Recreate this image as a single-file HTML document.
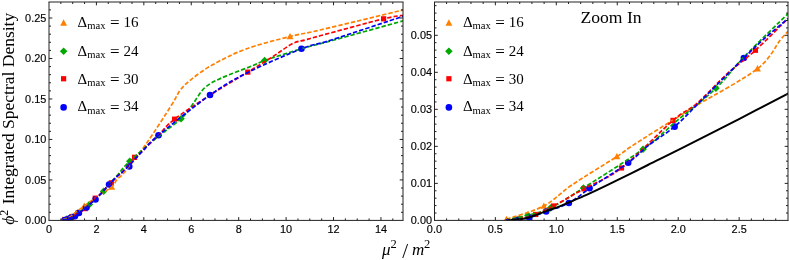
<!DOCTYPE html>
<html><head><meta charset="utf-8"><title>plot</title>
<style>html,body{margin:0;padding:0;background:#fff;}svg{display:block;will-change:transform;}</style>
</head><body>
<svg width="789" height="260" viewBox="0 0 789 260">
<defs>
<clipPath id="cl"><rect x="49.00" y="2.00" width="354.00" height="218.40"/></clipPath>
<clipPath id="cr"><rect x="434.50" y="2.00" width="353.50" height="218.40"/></clipPath>
</defs>
<rect width="100%" height="100%" fill="#fff"/>
<g clip-path="url(#cl)">
<path d="M62.67 216.24 L66.09 222.65 L59.25 222.65 Z" fill="#ff8000"/>
<path d="M69.98 213.33 L73.40 219.74 L66.56 219.74 Z" fill="#ff8000"/>
<path d="M84.26 202.50 L87.68 208.91 L80.84 208.91 Z" fill="#ff8000"/>
<path d="M111.74 183.27 L115.16 189.68 L108.32 189.68 Z" fill="#ff8000"/>
<path d="M290.05 32.90 L293.47 39.31 L286.63 39.31 Z" fill="#ff8000"/>
<path d="M66.87 215.20 L70.62 218.95 L66.87 222.70 L63.12 218.95 Z" fill="#00a800"/>
<path d="M71.27 213.62 L75.02 217.37 L71.27 221.12 L67.52 217.37 Z" fill="#00a800"/>
<path d="M77.72 209.22 L81.47 212.97 L77.72 216.72 L73.97 212.97 Z" fill="#00a800"/>
<path d="M89.36 200.74 L93.11 204.49 L89.36 208.24 L85.61 204.49 Z" fill="#00a800"/>
<path d="M103.61 187.40 L107.36 191.15 L103.61 194.90 L99.86 191.15 Z" fill="#00a800"/>
<path d="M129.74 157.43 L133.49 161.18 L129.74 164.93 L125.99 161.18 Z" fill="#00a800"/>
<path d="M181.04 115.09 L184.79 118.84 L181.04 122.59 L177.29 118.84 Z" fill="#00a800"/>
<path d="M264.64 56.75 L268.39 60.50 L264.64 64.25 L260.89 60.50 Z" fill="#00a800"/>
<rect x="62.77" y="217.16" width="5.20" height="5.20" fill="#ff0000"/>
<rect x="65.79" y="216.19" width="5.20" height="5.20" fill="#ff0000"/>
<rect x="69.26" y="214.33" width="5.20" height="5.20" fill="#ff0000"/>
<rect x="75.22" y="210.56" width="5.20" height="5.20" fill="#ff0000"/>
<rect x="82.56" y="206.01" width="5.20" height="5.20" fill="#ff0000"/>
<rect x="92.63" y="195.58" width="5.20" height="5.20" fill="#ff0000"/>
<rect x="108.73" y="180.23" width="5.20" height="5.20" fill="#ff0000"/>
<rect x="132.01" y="154.70" width="5.20" height="5.20" fill="#ff0000"/>
<rect x="172.03" y="116.56" width="5.20" height="5.20" fill="#ff0000"/>
<rect x="245.18" y="69.54" width="5.20" height="5.20" fill="#ff0000"/>
<rect x="381.02" y="16.21" width="5.20" height="5.20" fill="#ff0000"/>
<circle cx="64.78" cy="219.96" r="3.30" fill="#0000ff"/>
<circle cx="67.11" cy="219.47" r="3.30" fill="#0000ff"/>
<circle cx="70.43" cy="218.14" r="3.30" fill="#0000ff"/>
<circle cx="74.88" cy="216.28" r="3.30" fill="#0000ff"/>
<circle cx="78.91" cy="213.05" r="3.30" fill="#0000ff"/>
<circle cx="86.47" cy="207.48" r="3.30" fill="#0000ff"/>
<circle cx="95.54" cy="199.56" r="3.30" fill="#0000ff"/>
<circle cx="109.08" cy="184.53" r="3.30" fill="#0000ff"/>
<circle cx="129.26" cy="166.51" r="3.30" fill="#0000ff"/>
<circle cx="158.48" cy="135.32" r="3.30" fill="#0000ff"/>
<circle cx="210.01" cy="95.00" r="3.30" fill="#0000ff"/>
<circle cx="301.45" cy="48.78" r="3.30" fill="#0000ff"/>
<path d="M62.67 219.84 C63.89 219.35 67.85 218.18 69.98 216.93 C72.12 215.68 73.09 214.13 75.47 212.32 C77.85 210.52 82.26 207.56 84.26 206.10 C86.26 204.65 85.63 204.93 87.46 203.60 C89.29 202.26 93.14 199.57 95.23 198.10 C97.32 196.64 97.25 196.66 100.00 194.79 C102.75 192.92 109.04 189.24 111.74 186.87 C114.43 184.50 115.21 181.93 116.20 180.57 C117.19 179.21 116.28 180.15 117.70 178.71 C119.11 177.27 120.08 177.54 124.70 171.92 C129.32 166.31 137.61 156.17 145.41 145.02 C153.22 133.87 165.76 114.13 171.54 105.02 C177.32 95.92 176.88 94.60 180.09 90.40 C183.29 86.20 185.43 84.04 190.78 79.81 C196.12 75.58 202.97 70.16 212.15 65.03 C221.33 59.89 232.89 53.78 245.88 49.03 C258.86 44.27 277.70 39.67 290.05 36.50 C302.40 33.34 301.09 34.47 319.98 30.04 C338.86 25.61 389.44 13.27 403.34 9.92" fill="none" stroke="#ff8000" stroke-width="1.70" stroke-dasharray="4.4 2.0"/>
<path d="M62.52 220.00 C63.25 219.82 65.41 219.39 66.87 218.95 C68.33 218.51 69.46 218.37 71.27 217.37 C73.07 216.38 74.71 215.12 77.72 212.97 C80.74 210.82 86.27 206.98 89.36 204.49 C92.45 202.00 93.88 200.24 96.25 198.02 C98.62 195.80 101.44 193.48 103.61 191.15 C105.79 188.82 106.97 186.76 109.31 184.04 C111.66 181.32 114.29 178.64 117.70 174.83 C121.10 171.02 123.02 167.52 129.74 161.18 C136.45 154.83 149.45 143.83 158.00 136.78 C166.55 129.72 175.34 124.13 181.04 118.84 C186.74 113.55 188.28 110.17 192.20 105.02 C196.12 99.88 199.68 92.47 204.55 87.97 C209.42 83.47 213.46 81.72 221.41 78.03 C229.37 74.34 245.08 68.76 252.29 65.83 C259.49 62.91 256.44 63.34 264.64 60.50 C272.83 57.66 290.17 52.12 301.45 48.78 C312.73 45.45 315.34 45.12 332.32 40.46 C349.31 35.80 391.50 24.10 403.34 20.83" fill="none" stroke="#00a800" stroke-width="1.70" stroke-dasharray="4.4 2.0"/>
<path d="M62.52 220.00 C63.00 219.96 64.40 219.96 65.38 219.76 C66.35 219.56 67.31 219.26 68.39 218.79 C69.47 218.32 70.29 217.87 71.86 216.93 C73.43 215.99 75.60 214.55 77.82 213.16 C80.04 211.78 82.26 211.10 85.16 208.61 C88.06 206.11 92.77 200.54 95.23 198.18 C97.69 195.83 98.16 196.15 99.91 194.47 C101.66 192.78 103.82 190.02 105.73 188.08 C107.63 186.14 109.34 184.87 111.33 182.83 C113.33 180.80 115.82 177.74 117.70 175.88 C119.58 174.02 119.85 174.46 122.61 171.68 C125.37 168.91 130.83 162.79 134.25 159.24 C137.67 155.68 139.07 154.39 143.11 150.35 C147.15 146.31 153.22 140.20 158.48 135.00 C163.73 129.80 166.04 125.80 174.62 119.16 C183.21 112.52 197.82 103.00 210.01 95.16 C222.20 87.33 237.40 78.49 247.78 72.14 C258.15 65.78 264.84 61.75 272.24 57.03 C279.64 52.30 286.69 46.62 292.19 43.78 C297.69 40.93 300.62 41.31 305.25 39.98 C309.88 38.64 306.91 39.30 319.98 35.78 C333.04 32.25 369.73 22.20 383.62 18.81 C397.52 15.41 400.05 15.98 403.34 15.41" fill="none" stroke="#ff0000" stroke-width="1.70" stroke-dasharray="4.4 2.0"/>
<path d="M62.52 220.00 C62.90 219.97 64.02 219.93 64.78 219.84 C65.55 219.75 66.17 219.76 67.11 219.47 C68.05 219.19 69.14 218.67 70.43 218.14 C71.73 217.61 73.46 217.13 74.88 216.28 C76.29 215.43 78.08 213.71 78.91 213.05 C79.75 212.39 78.63 213.25 79.89 212.32 C81.14 211.39 84.69 208.93 86.47 207.48 C88.24 206.02 89.01 204.92 90.53 203.60 C92.04 202.28 93.97 201.03 95.54 199.56 C97.10 198.09 98.21 196.68 99.91 194.79 C101.61 192.91 104.20 189.96 105.73 188.25 C107.25 186.54 107.90 185.81 109.08 184.53 C110.25 183.25 111.34 182.01 112.78 180.57 C114.22 179.13 116.06 177.35 117.70 175.88 C119.34 174.42 120.45 173.77 122.61 171.76 C124.78 169.76 127.27 167.39 130.69 163.84 C134.10 160.30 138.48 155.27 143.11 150.51 C147.74 145.76 147.32 144.57 158.48 135.32 C169.63 126.07 195.13 105.47 210.01 95.00 C224.90 84.54 232.54 80.24 247.78 72.54 C263.01 64.84 287.52 54.21 301.45 48.78 C315.38 43.36 314.39 45.40 331.38 39.98 C348.36 34.55 391.34 20.18 403.34 16.22" fill="none" stroke="#0000ff" stroke-width="1.70" stroke-dasharray="4.4 2.0"/>
</g>
<g clip-path="url(#cr)">
<path d="M506.45 215.66 L509.87 222.07 L503.03 222.07 Z" fill="#ff8000"/>
<path d="M543.87 202.38 L547.29 208.79 L540.45 208.79 Z" fill="#ff8000"/>
<path d="M616.89 152.93 L620.31 159.34 L613.47 159.34 Z" fill="#ff8000"/>
<path d="M757.47 65.11 L760.89 71.52 L754.05 71.52 Z" fill="#ff8000"/>
<path d="M527.95 211.45 L531.70 215.20 L527.95 218.95 L524.20 215.20 Z" fill="#00a800"/>
<path d="M550.43 204.26 L554.18 208.01 L550.43 211.76 L546.68 208.01 Z" fill="#00a800"/>
<path d="M583.48 184.15 L587.23 187.90 L583.48 191.65 L579.73 187.90 Z" fill="#00a800"/>
<path d="M643.01 145.40 L646.76 149.15 L643.01 152.90 L639.26 149.15 Z" fill="#00a800"/>
<path d="M715.91 84.52 L719.66 88.27 L715.91 92.02 L712.16 88.27 Z" fill="#00a800"/>
<rect x="517.70" y="216.29" width="5.20" height="5.20" fill="#ff0000"/>
<rect x="533.13" y="211.87" width="5.20" height="5.20" fill="#ff0000"/>
<rect x="550.87" y="203.38" width="5.20" height="5.20" fill="#ff0000"/>
<rect x="581.37" y="186.18" width="5.20" height="5.20" fill="#ff0000"/>
<rect x="618.91" y="165.37" width="5.20" height="5.20" fill="#ff0000"/>
<rect x="670.43" y="117.77" width="5.20" height="5.20" fill="#ff0000"/>
<rect x="752.80" y="47.66" width="5.20" height="5.20" fill="#ff0000"/>
<circle cx="517.26" cy="219.82" r="3.30" fill="#0000ff"/>
<circle cx="529.17" cy="217.60" r="3.30" fill="#0000ff"/>
<circle cx="546.18" cy="211.51" r="3.30" fill="#0000ff"/>
<circle cx="568.90" cy="203.03" r="3.30" fill="#0000ff"/>
<circle cx="589.56" cy="188.27" r="3.30" fill="#0000ff"/>
<circle cx="628.19" cy="162.81" r="3.30" fill="#0000ff"/>
<circle cx="674.61" cy="126.64" r="3.30" fill="#0000ff"/>
<circle cx="743.86" cy="58.01" r="3.30" fill="#0000ff"/>
<path d="M506.45 219.26 C512.69 217.05 532.96 211.70 543.87 205.98 C554.79 200.26 559.77 193.19 571.94 184.94 C584.11 176.70 606.67 163.17 616.89 156.53 C627.12 149.89 623.94 151.18 633.29 145.09 C642.65 139.00 662.33 126.70 673.03 120.00 C683.72 113.30 683.37 113.42 697.45 104.87 C711.52 96.32 743.66 79.53 757.47 68.71 C771.28 57.89 775.23 46.14 780.31 39.93 C785.39 33.72 786.69 32.86 787.96 31.44" fill="none" stroke="#ff8000" stroke-width="1.70" stroke-dasharray="4.4 2.0"/>
<path d="M505.72 220.00 C509.43 219.20 520.50 217.20 527.95 215.20 C535.41 213.20 541.18 212.56 550.43 208.01 C559.69 203.46 568.05 197.71 583.48 187.90 C598.91 178.09 627.22 160.53 643.01 149.15 C658.81 137.77 666.10 129.78 678.25 119.63 C690.40 109.48 704.78 98.91 715.91 88.27 C727.05 77.63 733.07 68.22 745.08 55.80 C757.08 43.37 780.82 20.74 787.96 13.73" fill="none" stroke="#00a800" stroke-width="1.70" stroke-dasharray="4.4 2.0"/>
<path d="M505.72 220.00 C508.15 219.82 515.30 219.82 520.30 218.89 C525.30 217.97 530.20 216.62 535.73 214.47 C541.26 212.31 545.43 210.26 553.47 205.98 C561.51 201.70 572.63 195.12 583.97 188.78 C595.31 182.45 606.67 179.37 621.51 167.97 C636.35 156.57 660.45 131.13 673.03 120.37 C685.60 109.61 688.01 111.08 696.96 103.40 C705.91 95.71 716.99 83.10 726.73 74.25 C736.47 65.39 745.20 59.55 755.40 50.26 C765.61 40.97 782.54 23.81 787.96 18.53" fill="none" stroke="#ff0000" stroke-width="1.70" stroke-dasharray="4.4 2.0"/>
<path d="M505.72 220.00 C507.64 219.88 513.35 219.66 517.26 219.26 C521.17 218.86 524.35 218.89 529.17 217.60 C533.99 216.31 539.56 213.94 546.18 211.51 C552.80 209.08 561.67 206.90 568.90 203.03 C576.13 199.15 585.28 191.28 589.56 188.27 C593.83 185.25 588.10 189.19 594.54 184.94 C600.98 180.70 619.12 169.45 628.19 162.81 C637.26 156.16 641.23 151.12 648.97 145.09 C656.70 139.07 666.61 133.35 674.61 126.64 C682.60 119.94 688.27 113.48 696.96 104.87 C705.65 96.26 718.91 82.79 726.73 74.98 C734.54 67.17 737.85 63.85 743.86 58.01 C749.87 52.17 755.46 46.51 762.81 39.93 C770.16 33.35 783.77 22.09 787.96 18.53" fill="none" stroke="#0000ff" stroke-width="1.70" stroke-dasharray="4.4 2.0"/>
<path d="M508.15 220.37 C508.72 220.31 509.73 220.17 511.55 220.00 C513.37 219.83 516.21 219.75 519.09 219.34 C521.96 218.92 524.31 218.86 528.81 217.49 C533.30 216.13 541.24 212.88 546.06 211.14 C550.88 209.41 553.87 208.56 557.72 207.09 C561.57 205.61 564.34 204.32 569.14 202.29 C573.94 200.26 580.10 197.80 586.52 194.91 C592.94 192.02 597.43 189.93 607.66 184.94 C617.88 179.96 635.10 171.35 647.88 165.02 C660.65 158.68 668.98 154.69 684.33 146.94 C699.67 139.19 722.35 127.60 739.97 118.53 C757.59 109.45 781.69 96.85 790.03 92.51" fill="none" stroke="#000000" stroke-width="2.00"/>
</g>
<path d="M48.50 220.40 H403.50" stroke="#222" stroke-width="1" fill="none"/>
<path d="M48.50 2.00 H403.50" stroke="#222" stroke-width="1" fill="none"/>
<path d="M49.00 2.00 V220.40" stroke="#222" stroke-width="1" fill="none"/>
<path d="M403.00 2.00 V220.40" stroke="#222" stroke-width="1" fill="none"/>
<path d="M434.00 220.40 H788.50" stroke="#222" stroke-width="1" fill="none"/>
<path d="M434.00 2.00 H788.50" stroke="#222" stroke-width="1" fill="none"/>
<path d="M434.50 2.00 V220.40" stroke="#222" stroke-width="1" fill="none"/>
<path d="M788.00 2.00 V220.40" stroke="#222" stroke-width="1" fill="none"/>
<path d="M96.42 220.40 v-3.30 M96.42 2.00 v3.30 M143.84 220.40 v-3.30 M143.84 2.00 v3.30 M191.26 220.40 v-3.30 M191.26 2.00 v3.30 M238.68 220.40 v-3.30 M238.68 2.00 v3.30 M286.10 220.40 v-3.30 M286.10 2.00 v3.30 M333.52 220.40 v-3.30 M333.52 2.00 v3.30 M380.94 220.40 v-3.30 M380.94 2.00 v3.30 M60.86 220.40 v-2.00 M60.86 2.00 v2.00 M72.71 220.40 v-2.00 M72.71 2.00 v2.00 M84.56 220.40 v-2.00 M84.56 2.00 v2.00 M108.28 220.40 v-2.00 M108.28 2.00 v2.00 M120.13 220.40 v-2.00 M120.13 2.00 v2.00 M131.99 220.40 v-2.00 M131.99 2.00 v2.00 M155.69 220.40 v-2.00 M155.69 2.00 v2.00 M167.55 220.40 v-2.00 M167.55 2.00 v2.00 M179.41 220.40 v-2.00 M179.41 2.00 v2.00 M203.12 220.40 v-2.00 M203.12 2.00 v2.00 M214.97 220.40 v-2.00 M214.97 2.00 v2.00 M226.83 220.40 v-2.00 M226.83 2.00 v2.00 M250.53 220.40 v-2.00 M250.53 2.00 v2.00 M262.39 220.40 v-2.00 M262.39 2.00 v2.00 M274.25 220.40 v-2.00 M274.25 2.00 v2.00 M297.96 220.40 v-2.00 M297.96 2.00 v2.00 M309.81 220.40 v-2.00 M309.81 2.00 v2.00 M321.67 220.40 v-2.00 M321.67 2.00 v2.00 M345.38 220.40 v-2.00 M345.38 2.00 v2.00 M357.23 220.40 v-2.00 M357.23 2.00 v2.00 M369.09 220.40 v-2.00 M369.09 2.00 v2.00 M392.80 220.40 v-2.00 M392.80 2.00 v2.00 M49.00 179.92 h3.30 M403.00 179.92 h-3.30 M49.00 139.44 h3.30 M403.00 139.44 h-3.30 M49.00 98.96 h3.30 M403.00 98.96 h-3.30 M49.00 58.48 h3.30 M403.00 58.48 h-3.30 M49.00 18.00 h3.30 M403.00 18.00 h-3.30 M49.00 212.30 h2.00 M403.00 212.30 h-2.00 M49.00 204.21 h2.00 M403.00 204.21 h-2.00 M49.00 196.11 h2.00 M403.00 196.11 h-2.00 M49.00 188.02 h2.00 M403.00 188.02 h-2.00 M49.00 171.82 h2.00 M403.00 171.82 h-2.00 M49.00 163.73 h2.00 M403.00 163.73 h-2.00 M49.00 155.63 h2.00 M403.00 155.63 h-2.00 M49.00 147.54 h2.00 M403.00 147.54 h-2.00 M49.00 131.34 h2.00 M403.00 131.34 h-2.00 M49.00 123.25 h2.00 M403.00 123.25 h-2.00 M49.00 115.15 h2.00 M403.00 115.15 h-2.00 M49.00 107.06 h2.00 M403.00 107.06 h-2.00 M49.00 90.86 h2.00 M403.00 90.86 h-2.00 M49.00 82.77 h2.00 M403.00 82.77 h-2.00 M49.00 74.67 h2.00 M403.00 74.67 h-2.00 M49.00 66.58 h2.00 M403.00 66.58 h-2.00 M49.00 50.38 h2.00 M403.00 50.38 h-2.00 M49.00 42.29 h2.00 M403.00 42.29 h-2.00 M49.00 34.19 h2.00 M403.00 34.19 h-2.00 M49.00 26.10 h2.00 M403.00 26.10 h-2.00 M49.00 9.90 h2.00 M403.00 9.90 h-2.00 M495.35 220.40 v-3.30 M495.35 2.00 v3.30 M556.30 220.40 v-3.30 M556.30 2.00 v3.30 M617.25 220.40 v-3.30 M617.25 2.00 v3.30 M678.20 220.40 v-3.30 M678.20 2.00 v3.30 M739.15 220.40 v-3.30 M739.15 2.00 v3.30 M446.59 220.40 v-2.00 M446.59 2.00 v2.00 M458.78 220.40 v-2.00 M458.78 2.00 v2.00 M470.97 220.40 v-2.00 M470.97 2.00 v2.00 M483.16 220.40 v-2.00 M483.16 2.00 v2.00 M507.54 220.40 v-2.00 M507.54 2.00 v2.00 M519.73 220.40 v-2.00 M519.73 2.00 v2.00 M531.92 220.40 v-2.00 M531.92 2.00 v2.00 M544.11 220.40 v-2.00 M544.11 2.00 v2.00 M568.49 220.40 v-2.00 M568.49 2.00 v2.00 M580.68 220.40 v-2.00 M580.68 2.00 v2.00 M592.87 220.40 v-2.00 M592.87 2.00 v2.00 M605.06 220.40 v-2.00 M605.06 2.00 v2.00 M629.44 220.40 v-2.00 M629.44 2.00 v2.00 M641.63 220.40 v-2.00 M641.63 2.00 v2.00 M653.82 220.40 v-2.00 M653.82 2.00 v2.00 M666.01 220.40 v-2.00 M666.01 2.00 v2.00 M690.39 220.40 v-2.00 M690.39 2.00 v2.00 M702.58 220.40 v-2.00 M702.58 2.00 v2.00 M714.77 220.40 v-2.00 M714.77 2.00 v2.00 M726.96 220.40 v-2.00 M726.96 2.00 v2.00 M751.34 220.40 v-2.00 M751.34 2.00 v2.00 M763.53 220.40 v-2.00 M763.53 2.00 v2.00 M775.72 220.40 v-2.00 M775.72 2.00 v2.00 M434.50 183.38 h3.30 M788.00 183.38 h-3.30 M434.50 146.36 h3.30 M788.00 146.36 h-3.30 M434.50 109.34 h3.30 M788.00 109.34 h-3.30 M434.50 72.32 h3.30 M788.00 72.32 h-3.30 M434.50 35.30 h3.30 M788.00 35.30 h-3.30 M434.50 213.00 h2.00 M788.00 213.00 h-2.00 M434.50 205.59 h2.00 M788.00 205.59 h-2.00 M434.50 198.19 h2.00 M788.00 198.19 h-2.00 M434.50 190.78 h2.00 M788.00 190.78 h-2.00 M434.50 175.98 h2.00 M788.00 175.98 h-2.00 M434.50 168.57 h2.00 M788.00 168.57 h-2.00 M434.50 161.17 h2.00 M788.00 161.17 h-2.00 M434.50 153.76 h2.00 M788.00 153.76 h-2.00 M434.50 138.96 h2.00 M788.00 138.96 h-2.00 M434.50 131.55 h2.00 M788.00 131.55 h-2.00 M434.50 124.15 h2.00 M788.00 124.15 h-2.00 M434.50 116.74 h2.00 M788.00 116.74 h-2.00 M434.50 101.94 h2.00 M788.00 101.94 h-2.00 M434.50 94.53 h2.00 M788.00 94.53 h-2.00 M434.50 87.13 h2.00 M788.00 87.13 h-2.00 M434.50 79.72 h2.00 M788.00 79.72 h-2.00 M434.50 64.92 h2.00 M788.00 64.92 h-2.00 M434.50 57.51 h2.00 M788.00 57.51 h-2.00 M434.50 50.11 h2.00 M788.00 50.11 h-2.00 M434.50 42.70 h2.00 M788.00 42.70 h-2.00 M434.50 27.90 h2.00 M788.00 27.90 h-2.00 M434.50 20.49 h2.00 M788.00 20.49 h-2.00 M434.50 13.09 h2.00 M788.00 13.09 h-2.00 M434.50 5.68 h2.00 M788.00 5.68 h-2.00" stroke="#222" stroke-width="1" fill="none"/>
<g font-family='"Liberation Sans", sans-serif' font-size="10.90" fill="#000" stroke="#000" stroke-width="0.15">
<text x="49.00" y="233.2" text-anchor="middle">0</text>
<text x="96.42" y="233.2" text-anchor="middle">2</text>
<text x="143.84" y="233.2" text-anchor="middle">4</text>
<text x="191.26" y="233.2" text-anchor="middle">6</text>
<text x="238.68" y="233.2" text-anchor="middle">8</text>
<text x="286.10" y="233.2" text-anchor="middle">10</text>
<text x="333.52" y="233.2" text-anchor="middle">12</text>
<text x="380.94" y="233.2" text-anchor="middle">14</text>
<text x="46.3" y="224.25" text-anchor="end">0.00</text>
<text x="46.3" y="183.77" text-anchor="end">0.05</text>
<text x="46.3" y="143.29" text-anchor="end">0.10</text>
<text x="46.3" y="102.81" text-anchor="end">0.15</text>
<text x="46.3" y="62.33" text-anchor="end">0.20</text>
<text x="46.3" y="21.85" text-anchor="end">0.25</text>
<text x="434.40" y="233.2" text-anchor="middle">0.0</text>
<text x="495.35" y="233.2" text-anchor="middle">0.5</text>
<text x="556.30" y="233.2" text-anchor="middle">1.0</text>
<text x="617.25" y="233.2" text-anchor="middle">1.5</text>
<text x="678.20" y="233.2" text-anchor="middle">2.0</text>
<text x="739.15" y="233.2" text-anchor="middle">2.5</text>
<text x="432.0" y="224.25" text-anchor="end">0.00</text>
<text x="432.0" y="187.23" text-anchor="end">0.01</text>
<text x="432.0" y="150.21" text-anchor="end">0.02</text>
<text x="432.0" y="113.19" text-anchor="end">0.03</text>
<text x="432.0" y="76.17" text-anchor="end">0.04</text>
<text x="432.0" y="39.15" text-anchor="end">0.05</text>
</g>
<path d="M63.60 19.30 L67.02 25.71 L60.18 25.71 Z" fill="#ff8000"/>
<text x="77.60" y="26.80" font-family='"Liberation Serif", serif' font-size="15" fill="#000">&#916;<tspan font-size="10.6" dy="2.3">max</tspan><tspan dy="-1.1" dx="4.4" font-size="17">=</tspan><tspan dx="3.9" dy="-1.2" font-size="15">16</tspan></text>
<path d="M63.60 47.55 L67.35 51.30 L63.60 55.05 L59.85 51.30 Z" fill="#00a800"/>
<text x="77.60" y="55.70" font-family='"Liberation Serif", serif' font-size="15" fill="#000">&#916;<tspan font-size="10.6" dy="2.3">max</tspan><tspan dy="-1.1" dx="4.4" font-size="17">=</tspan><tspan dx="3.9" dy="-1.2" font-size="15">24</tspan></text>
<rect x="61.00" y="76.15" width="5.20" height="5.20" fill="#ff0000"/>
<text x="77.60" y="83.80" font-family='"Liberation Serif", serif' font-size="15" fill="#000">&#916;<tspan font-size="10.6" dy="2.3">max</tspan><tspan dy="-1.1" dx="4.4" font-size="17">=</tspan><tspan dx="3.9" dy="-1.2" font-size="15">30</tspan></text>
<circle cx="63.60" cy="107.40" r="3.30" fill="#0000ff"/>
<text x="77.60" y="111.40" font-family='"Liberation Serif", serif' font-size="15" fill="#000">&#916;<tspan font-size="10.6" dy="2.3">max</tspan><tspan dy="-1.1" dx="4.4" font-size="17">=</tspan><tspan dx="3.9" dy="-1.2" font-size="15">34</tspan></text>
<path d="M448.90 19.30 L452.32 25.71 L445.48 25.71 Z" fill="#ff8000"/>
<text x="462.90" y="26.80" font-family='"Liberation Serif", serif' font-size="15" fill="#000">&#916;<tspan font-size="10.6" dy="2.3">max</tspan><tspan dy="-1.1" dx="4.4" font-size="17">=</tspan><tspan dx="3.9" dy="-1.2" font-size="15">16</tspan></text>
<path d="M448.90 47.55 L452.65 51.30 L448.90 55.05 L445.15 51.30 Z" fill="#00a800"/>
<text x="462.90" y="55.70" font-family='"Liberation Serif", serif' font-size="15" fill="#000">&#916;<tspan font-size="10.6" dy="2.3">max</tspan><tspan dy="-1.1" dx="4.4" font-size="17">=</tspan><tspan dx="3.9" dy="-1.2" font-size="15">24</tspan></text>
<rect x="446.30" y="76.15" width="5.20" height="5.20" fill="#ff0000"/>
<text x="462.90" y="83.80" font-family='"Liberation Serif", serif' font-size="15" fill="#000">&#916;<tspan font-size="10.6" dy="2.3">max</tspan><tspan dy="-1.1" dx="4.4" font-size="17">=</tspan><tspan dx="3.9" dy="-1.2" font-size="15">30</tspan></text>
<circle cx="448.90" cy="107.40" r="3.30" fill="#0000ff"/>
<text x="462.90" y="111.40" font-family='"Liberation Serif", serif' font-size="15" fill="#000">&#916;<tspan font-size="10.6" dy="2.3">max</tspan><tspan dy="-1.1" dx="4.4" font-size="17">=</tspan><tspan dx="3.9" dy="-1.2" font-size="15">34</tspan></text>
<text x="580.5" y="23.1" font-family='"Liberation Serif", serif' font-size="17.6" fill="#000">Zoom In</text>
<text transform="translate(14.4 224.7) rotate(-90)" font-family='"Liberation Serif", serif' font-size="17.5" fill="#000"><tspan font-style="italic">&#981;</tspan><tspan font-size="12" dy="-6">2</tspan><tspan dy="6" dx="1"> Integrated Spectral Density</tspan></text>
<text font-family='"Liberation Serif", serif' font-size="17" font-style="italic" fill="#000"><tspan x="381.9" y="254.5">&#956;</tspan><tspan x="390.4" y="247.9" font-size="12.5" font-style="normal">2</tspan><tspan x="402.3" y="257.8" font-size="21" font-style="normal">/</tspan><tspan x="412.1" y="254.5">m</tspan><tspan x="423.9" y="247.9" font-size="12.5" font-style="normal">2</tspan></text>
</svg>
</body></html>
